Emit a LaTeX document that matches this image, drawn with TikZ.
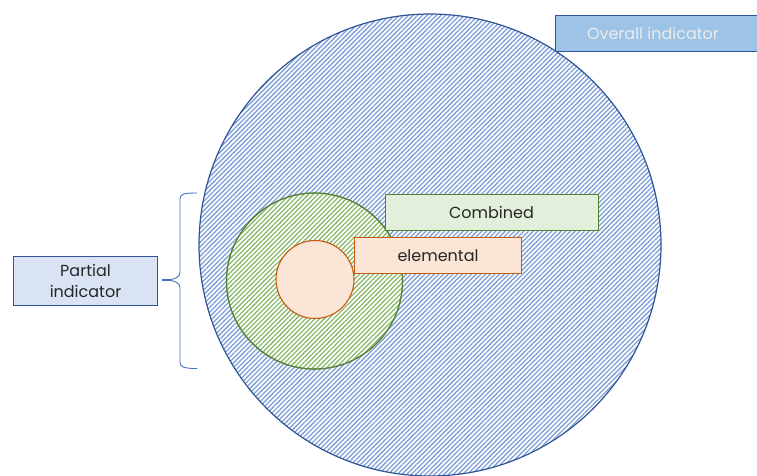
\documentclass[tikz,border=0pt]{standalone}
\usepackage{fontspec}
\setmainfont{Poppins}
\usetikzlibrary{patterns.meta}
\definecolor{bigline}{HTML}{2F5597}
\definecolor{bighatch}{HTML}{7E9ED8}
\definecolor{grline}{HTML}{548235}
\definecolor{grhatch}{HTML}{7DB45A}
\definecolor{grfill}{HTML}{E2EFDA}
\definecolor{orline}{HTML}{C55A11}
\definecolor{orfill}{HTML}{FBE5D6}
\definecolor{ovfill}{HTML}{9DC3E6}
\definecolor{pafill}{HTML}{DAE3F3}
\definecolor{bracec}{HTML}{4472C4}
\tikzset{
  lbl/.style={draw, line width=1pt, inner sep=0pt, font=\fontsize{16}{19}\selectfont, text=black!85},
}
\begin{document}
\begin{tikzpicture}[x=1pt,y=-1pt]
\useasboundingbox (0,0) rectangle (757,475);
% big circle
\node (big) [circle, draw=bigline, line width=1.2pt, minimum size=462pt, inner sep=0pt,
  pattern={Lines[angle=45,distance=3.3pt,line width=1.3pt]}, pattern color=bighatch] at (430,245) {};
% green circle
\node (green) [circle, draw=grline, line width=1.1pt, minimum size=176pt, inner sep=0pt, fill=white] at (314.5,281) {};
\node [circle, minimum size=175pt, inner sep=0pt,
  pattern={Lines[angle=45,distance=3.3pt,line width=1.1pt]}, pattern color=grhatch] at (green.center) {};
\draw[grline, line width=1.1pt] (green.center) circle[radius=88pt];
% orange circle
\node (elem) [circle, draw=orline, line width=1.1pt, fill=orfill, minimum size=78pt, inner sep=0pt] at (315,279.5) {};
% boxes
\node (comb) [lbl, draw=grline, fill=grfill, minimum width=213pt, minimum height=36pt] at (491.5,212) {Combined};
\node (elbox) [lbl, draw=orline, fill=orfill, minimum width=167pt, minimum height=36pt] at (438,255.5) {elemental};
\node (over) [lbl, draw=bigline, fill=ovfill, text=white!92!black, minimum height=36.5pt, anchor=west] at (554.5,33.5) {\hspace*{32pt}Overall indicator\hspace*{40pt}};
\node (part) [lbl, draw=bigline, fill=pafill, minimum width=144pt, minimum height=49.5pt, align=center] at (85.5,281) {Partial\\[2pt]indicator};
% brace
\coordinate (btop) at (197,193);
\coordinate (bbot) at (197,368.5);
\coordinate (btip) at (162,280);
\draw[bracec, line width=0.9pt] (btop) .. controls (184,193) and (180,194) .. (180,199) -- (180,272)
  .. controls (180,277) and (176,280) .. (btip)
  .. controls (176,280) and (180,283) .. (180,288) -- (180,362)
  .. controls (180,367) and (184,368.5) .. (bbot);
\draw[bracec, line width=1.4pt] (btip) -- ++(10,0);
\end{tikzpicture}
\end{document}
